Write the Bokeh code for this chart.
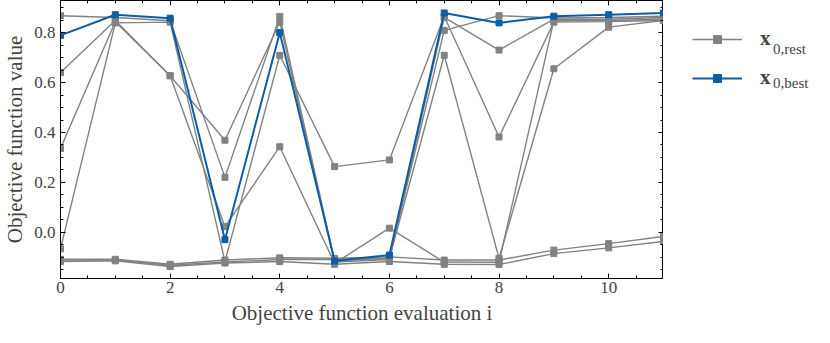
from bokeh.plotting import figure
from bokeh.layouts import row
from bokeh.models import (Range1d, LinearAxis, Legend, LegendItem, CustomJSTickFormatter,
                          SingleIntervalTicker, PrintfTickFormatter)
from bokeh.embed import file_html
from bokeh.resources import INLINE

evals = list(range(12))
rest_1 = [0.869, 0.862, 0.849, 0.220, 0.866, -0.115, -0.105, 0.810, 0.869, 0.860, 0.862, 0.867]
rest_2 = [0.641, 0.850, 0.628, 0.369, 0.843, -0.120, -0.110, 0.862, 0.731, 0.855, 0.855, 0.862]
rest_3 = [0.336, 0.845, 0.628, 0.022, 0.343, -0.125, 0.016, -0.120, -0.121, 0.850, 0.849, 0.856]
rest_4 = [-0.067, 0.840, 0.843, -0.118, 0.710, 0.263, 0.290, 0.867, 0.382, 0.843, 0.845, 0.850]
rest_5 = [-0.109, -0.109, -0.129, -0.112, -0.103, -0.105, -0.099, -0.112, -0.112, -0.072, -0.046, -0.017]
rest_6 = [-0.118, -0.115, -0.138, -0.124, -0.118, -0.129, -0.118, -0.129, -0.130, -0.086, -0.063, -0.037]
rest_7 = [-0.112, -0.112, -0.133, -0.120, -0.110, -0.110, -0.105, 0.710, -0.105, 0.656, 0.823, 0.850]
best = [0.790, 0.873, 0.859, -0.030, 0.801, -0.116, -0.092, 0.880, 0.840, 0.867, 0.873, 0.880]
rest_series = [rest_1, rest_2, rest_3, rest_4, rest_5, rest_6, rest_7]
legend_main = ["x", "x"]
legend_sub = ["0,rest", "0,best"]

x_ticks_interval = 2
y_ticks_interval = 0.2

GRAY = "#828282"
BLUE = "#0C5DA5"
FONT = "Liberation Serif"

p = figure(width=663, height=327, output_backend="svg", toolbar_location=None,
           x_range=Range1d(0, 11), y_range=Range1d(-0.186, 0.930),
           min_border_left=54, min_border_right=0, min_border_top=0, min_border_bottom=40)
p.grid.visible = False
p.outline_line_color = "black"
p.outline_line_width = 1

def draw(fig):
    rl = rm = None
    for ys in rest_series:
        rl = fig.line(evals, ys, line_color=GRAY, line_width=1.4)
        rm = fig.scatter(evals, ys, marker="square", size=6, fill_color=GRAY, line_color=GRAY)
    bl = fig.line(evals, best, line_color=BLUE, line_width=2)
    bm = fig.scatter(evals, best, marker="square", size=6, fill_color=BLUE, line_color=BLUE)
    return rl, rm, bl, bm

draw(p)

def style_axis(ax, labels=True):
    ax.major_tick_in = 5
    ax.major_tick_out = 0
    ax.minor_tick_in = 3
    ax.minor_tick_out = 0
    ax.axis_line_color = "black"
    ax.major_tick_line_color = "black"
    ax.minor_tick_line_color = "black"
    ax.major_label_text_font = FONT
    ax.major_label_text_font_size = "17px"
    if not labels:
        ax.major_label_text_color = None
        ax.major_label_standoff = 0
        ax.formatter = CustomJSTickFormatter(code="return ''")
    ax.axis_label_text_font = FONT
    ax.axis_label_text_font_size = "21px"
    ax.axis_label_text_font_style = "normal"

xt = SingleIntervalTicker(interval=x_ticks_interval, num_minor_ticks=4)
yt = SingleIntervalTicker(interval=y_ticks_interval, num_minor_ticks=4)

p.xaxis.ticker = xt
p.yaxis.ticker = yt
p.xaxis.formatter = PrintfTickFormatter(format="%d")
p.yaxis.formatter = PrintfTickFormatter(format="%.1f")
p.xaxis.axis_label = "Objective function evaluation i"
p.yaxis.axis_label = "Objective function value"
for ax in p.xaxis + p.yaxis:
    style_axis(ax)
p.xaxis.major_label_standoff = 3
p.xaxis.axis_label_standoff = 5
p.yaxis.major_label_standoff = 5
p.yaxis.axis_label_standoff = 4

top = LinearAxis(ticker=xt)
style_axis(top, labels=False)
p.add_layout(top, "above")
right = LinearAxis(ticker=yt)
style_axis(right, labels=False)
p.add_layout(right, "right")

# legend panel: same series, drawn outside its visible range so only the legend shows
lg = figure(width=151, height=327, output_backend="svg", toolbar_location=None,
            x_range=Range1d(-1000, -999), y_range=Range1d(-1000, -999),
            x_axis_type=None, y_axis_type=None,
            min_border_left=0, min_border_right=0, min_border_top=0, min_border_bottom=0)
lg.grid.visible = False
lg.outline_line_color = None
rest_line, rest_mark, best_line, best_mark = draw(lg)

legend = Legend(items=[LegendItem(label=legend_main[0], renderers=[rest_line, rest_mark]),
                       LegendItem(label=legend_main[1], renderers=[best_line, best_mark])],
                location=(29, 188))
legend.label_text_font = FONT
legend.label_text_font_style = "bold"
legend.label_text_font_size = "21px"
legend.glyph_width = 50
legend.glyph_height = 20
legend.label_standoff = 18
legend.label_height = 20
legend.spacing = 14
legend.padding = 0
legend.margin = 0
legend.border_line_color = None
legend.background_fill_alpha = 0
lg.add_layout(legend)

legend2 = Legend(items=[LegendItem(label=legend_sub[0], renderers=[]),
                        LegendItem(label=legend_sub[1], renderers=[])],
                 location=(110, 185))
legend2.label_text_font = FONT
legend2.label_text_font_size = "15px"
legend2.glyph_width = 0
legend2.glyph_height = 20
legend2.label_standoff = 0
legend2.label_height = 20
legend2.spacing = 14
legend2.padding = 0
legend2.margin = 0
legend2.border_line_color = None
legend2.background_fill_alpha = 0
lg.add_layout(legend2)

layout = row(p, lg)
open("out.html", "w").write(file_html(layout, INLINE))
